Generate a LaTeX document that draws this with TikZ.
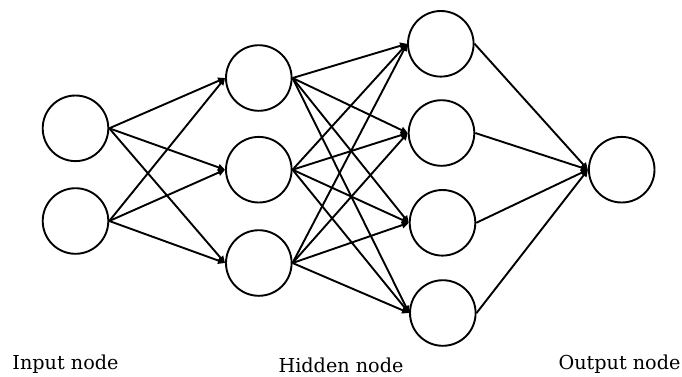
\documentclass[tikz,border=0pt]{standalone}
\usepackage{fontspec}
\setmainfont{DejaVu Serif}
\usetikzlibrary{arrows.meta}
\begin{document}
\begin{tikzpicture}[x=1pt,y=-1pt,
  neuron/.style={circle,draw=black,line width=1.9pt,minimum size=65.6pt,inner sep=0pt,fill=white},
  conn/.style={line width=1.9pt,-{Triangle[length=7pt,width=6.5pt]}},
  lbl/.style={anchor=base,inner sep=0pt,font=\fontsize{19.2}{21}\selectfont}]
\useasboundingbox (0,0) rectangle (682,376);
\node[neuron] (i1) at (75.5,128.3) {};
\node[neuron] (i2) at (75.5,221) {};
\node[neuron] (a1) at (258.8,78) {};
\node[neuron] (a2) at (258.8,169.7) {};
\node[neuron] (a3) at (258.8,263) {};
\node[neuron] (b1) at (440.8,43.8) {};
\node[neuron] (b2) at (441.5,133) {};
\node[neuron] (b3) at (442.5,222.8) {};
\node[neuron] (b4) at (442.8,313) {};
\node[neuron] (o) at (621.7,169.7) {};
\foreach \s in {i1,i2}{\foreach \t in {a1,a2,a3}{\draw[conn] (\s.east) -- (\t.west);}}
\foreach \s in {a1,a2,a3}{\foreach \t in {b1,b2,b3,b4}{\draw[conn] (\s.east) -- (\t.west);}}
\foreach \s in {b1,b2,b3,b4}{\draw[conn] (\s.east) -- (o.west);}
\node[lbl] (li) at (65.5,369) {Input node};
\node[lbl] (lh) at (341,372.5) {Hidden node};
\node[lbl] (lo) at (619.5,369) {Output node};
\end{tikzpicture}
\end{document}
